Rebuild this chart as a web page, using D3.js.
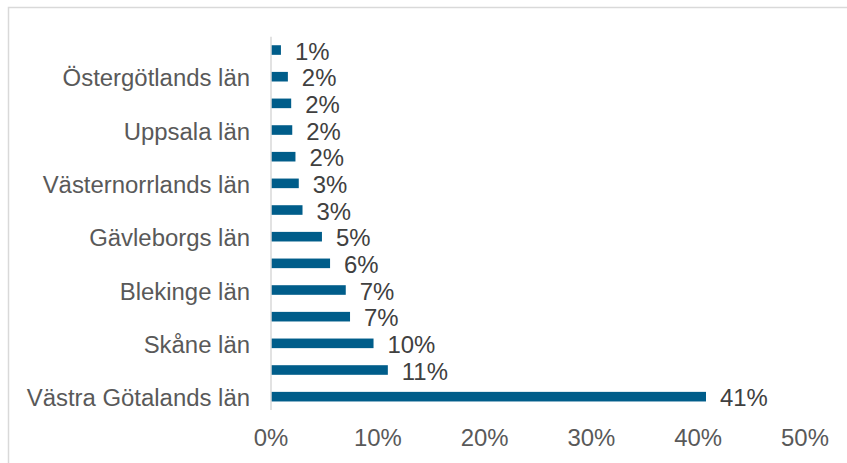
<!DOCTYPE html>
<html>
<head>
<meta charset="utf-8">
<script src="https://cdn.jsdelivr.net/npm/d3@7"></script>
<style>
html,body{margin:0;padding:0;background:#fff;}
svg{display:block;}
text{font-family:"Liberation Sans",Arial,sans-serif;}
</style>
</head>
<body>
<svg id="chart" width="847" height="463"></svg>
<script>
// Categories top to bottom (only every other one is labelled in the chart)
const categories = [
  "Kalmar län", "Östergötlands län", "Dalarnas län", "Uppsala län",
  "Örebro län", "Västernorrlands län", "Värmlands län", "Gävleborgs län",
  "Jönköpings län", "Blekinge län", "Hallands län", "Skåne län",
  "Stockholms län", "Västra Götalands län"
];
const shownLabels = [false, true, false, true, false, true, false, true, false, true, false, true, false, true];
const values = [0.93, 1.58, 1.89, 1.99, 2.29, 2.6, 2.95, 4.77, 5.53, 7.0, 7.4, 9.6, 10.94, 40.73];
const valueLabels = ["1%", "2%", "2%", "2%", "2%", "3%", "3%", "5%", "6%", "7%", "7%", "10%", "11%", "41%"];
const tickValues = [0, 10, 20, 30, 40, 50];

const svg = d3.select("#chart");
const W = 847, H = 463;
const stretch = 1.04;
const fs = 23;

// chart border
svg.append("rect").attr("x", 8.5).attr("y", 7.5).attr("width", W + 10).attr("height", H + 10)
  .attr("fill", "#fff").attr("stroke", "#D9D9D9").attr("stroke-width", 1.5);

const x = d3.scaleLinear().domain([0, 50]).range([271, 805]);
const y = d3.scaleBand().domain(d3.range(categories.length)).range([36.7, 410]).paddingInner(0.64).paddingOuter(0.32);

const data = categories.map((c, i) => ({c, i, v: values[i], lab: valueLabels[i], show: shownLabels[i]}));

// bars
svg.append("g").selectAll("rect").data(data).join("rect")
  .attr("x", x(0))
  .attr("y", d => y(d.i))
  .attr("width", d => x(d.v) - x(0))
  .attr("height", y.bandwidth())
  .attr("fill", "#005D8A");

// vertical axis line
svg.append("line").attr("x1", x(0)).attr("x2", x(0)).attr("y1", 36.7).attr("y2", 410)
  .attr("stroke", "#D9D9D9").attr("stroke-width", 1.5);

const cy = d => y(d.i) + y.bandwidth() / 2;

// category labels
svg.append("g").selectAll("text").data(data.filter(d => d.show)).join("text")
  .attr("transform", d => `translate(250,${cy(d) + 9.5}) scale(${stretch},1)`)
  .attr("text-anchor", "end")
  .attr("font-size", fs)
  .attr("fill", "#595959")
  .text(d => d.c);

// value labels
svg.append("g").selectAll("text").data(data).join("text")
  .attr("transform", d => `translate(${x(d.v) + 14},${cy(d) + 9.5}) scale(${stretch},1)`)
  .attr("text-anchor", "start")
  .attr("font-size", fs)
  .attr("fill", "#404040")
  .text(d => d.lab);

// x tick labels
svg.append("g").selectAll("text").data(tickValues).join("text")
  .attr("transform", t => `translate(${x(t)},446) scale(${stretch},1)`)
  .attr("text-anchor", "middle")
  .attr("font-size", fs)
  .attr("fill", "#595959")
  .text(t => t + "%");
</script>
</body>
</html>
